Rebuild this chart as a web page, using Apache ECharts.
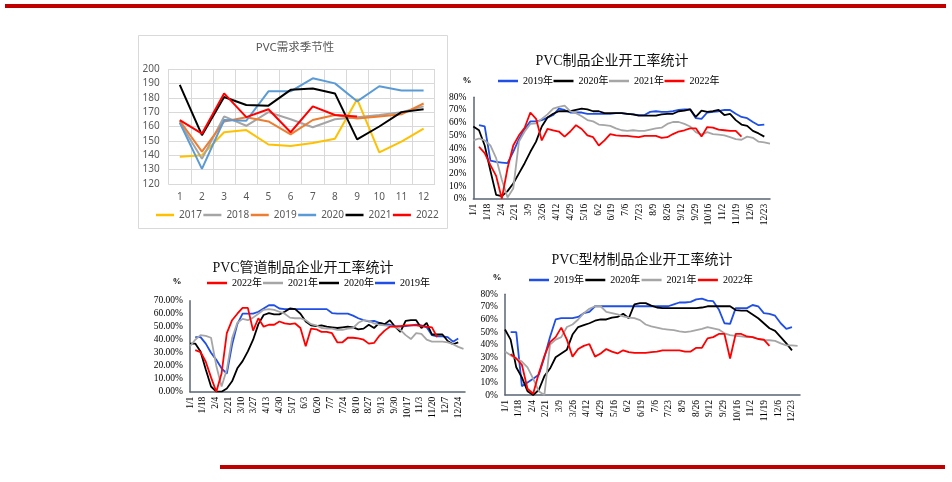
<!DOCTYPE html>
<html><head><meta charset="utf-8">
<script src="https://cdn.jsdelivr.net/npm/echarts@6/dist/echarts.min.js"></script>
<style>html,body{margin:0;padding:0;background:#fff}#c{width:952px;height:482px}</style>
</head><body><div id="c"></div>
<script>
// ---------- Panel 1: monthly seasonality ----------
const months = ['1','2','3','4','5','6','7','8','9','10','11','12'];
const s2017 = [139,140,156,157.5,147.5,146.5,148.5,151.5,179,142,149.5,158.5];
const s2018 = [163,137.5,167,160.5,170,165,159.5,165,166.5,168,170,174];
const s2019 = [164,142.5,163.5,166.5,163.5,154.5,164.5,168,165.5,167,168.5,176];
const s2020 = [162.5,130.5,164.5,164,184.5,184.5,193.5,190,177.5,188,185,185];
const s2021 = [189,154,180.5,175,174.5,185.5,186.5,183,151,160,170,172];
const s2022 = [164.5,155,183,166.5,172,156,174,168,167,null,null,null];

// ---------- Weekly tick labels (every 17 days) ----------
const labels2 = ['1/1','1/18','2/4','2/21','3/9','3/26','4/12','4/29','5/16','6/2','6/19','7/6','7/23','8/9','8/26','9/12','9/29','10/16','11/2','11/19','12/6','12/23'];
const labels3 = ['1/1','1/18','2/4','2/21','3/10','3/27','4/13','4/30','5/17','6/3','6/20','7/7','7/24','8/10','8/27','9/13','9/30','10/17','11/3','11/20','12/7','12/24'];
const labels4 = ['1/1','1/18','2/4','2/21','3/9','3/26','4/12','4/29','5/16','6/2','6/19','7/6','7/23','8/9','8/26','9/12','9/29','10/16','11/2','11/19','12/6','12/23'];

// ---------- Panel 2: PVC制品 weekly (week 0..52) ----------
const p2_2019 = [null,58,57,30,29,28.5,28,37,47,55,61,61,62,64,66,71,70,68,68,68,67,67,67,67,67,67.5,67.5,67,66.5,66,66,68.5,69,68.5,68.5,69,70,70.5,70.5,63.5,63,68,68.5,69,70,70,67,64.5,63.5,60.5,58,58.5,null];
const p2_2020 = [57,54,42,22,3,2,6,12,20,28,37,45,57,64,67,69,69,69,70,71,70.5,69,69,67.5,67.5,67.5,67.5,67,66.5,65.5,65.5,65.5,65.5,66.5,67,67,69,69.5,70.5,64.5,69.5,68.5,69,70,66,67,62,58.5,57.5,53.5,51.5,49,null];
const p2_2021 = [46,47.5,46,42,32,15,1,8,45,53,59,59.5,63,66.5,71,72.5,73.5,69,67.5,65,62,61,58.5,58,57.5,55.5,54,53.5,54,53.5,53.5,54.5,55.5,56,59,60.5,60.5,59,57,52.5,50.5,52.5,51,50.5,50,48.5,47,46.5,49,48,45,44.5,43.5];
const p2_2022 = [null,41,36,26.5,18,0,24,42,50,56,68,63,46,55,54,53,49,53,58,55,50,48.5,42,46,51,50,49.5,49.5,49,48.5,49.5,49.5,49.5,48,48.5,51,53,54,55.5,55.5,49,56.5,56,54.5,54,53.5,53.5,49,null,null,null,null,null];

// ---------- Panel 3: PVC管道制品 weekly ----------
const p3_2022 = [null,32,30.5,23,11,0,14,45,55,60,64.5,64.5,47,56.5,50,51.5,51.5,54,52.5,52,52.5,49,35,48.5,48,46,46,45,38,38,41.5,41.5,41,40,37,37.5,43,47,50,50,50.5,51,51,51,50.5,50,49.5,42,null,null,null,null,null];
const p3_2021 = [35,40,43.5,43,41.5,20,4,17,41,53,56,55,57,60,63,63.5,63,61.5,60,57,56.5,56.5,55,52,51,49,48.5,48.5,47.5,47.5,48.5,49,53,55,54.5,52.5,51.5,51,50.5,50,47.5,43.5,40.5,45,44.5,40,38.5,38.5,38.5,38,36.5,34.5,33];
const p3_2020 = [37,37,31,17,4,0,0,2.5,8,18,23.5,31,40,52,59,60.5,59.5,59.5,61.5,64,63.5,60,54,51,50.5,51,50,49.5,49,49.5,50,49.5,48,48.5,51.5,49,53,52,55,50,46,54.5,55,55,49,53,44,44,44,39,36.5,38,null];
const p3_2019 = [null,42,42,37,30,24.5,18,14,36,52,60,60,60,61.5,64,66.5,66.5,64,63.5,63.5,63.5,63.5,63.5,63.5,63.5,63.5,63.5,60.5,60,60,60,58.5,56.5,55,54,54.5,53,52,51.5,50.5,50,50.5,51,51.5,51,49.5,43.5,42.5,42.5,42,38.5,41,null];

// ---------- Panel 4: PVC型材制品 weekly ----------
const p4_2019 = [null,50,50,7,10,13,16,30,46,60,61,61,61,62,65,66,70.5,70.5,70.5,70.5,70.5,70.5,70.5,70.5,70.5,70.5,70.5,70.5,70.5,70.5,72,73.5,73.5,74,76,76.5,75,74.5,68,57,56.5,69,69,69,71.5,70.5,65,64.5,63,57,52.5,54,null];
const p4_2020 = [52,44,22,14,3,0,4,15,21,30,33,36,48,54,55.5,57,59,60,60,61.5,62,64.5,61,72,73,73,71,69.5,69,69,69,69,69,69,69,69.5,70.5,70.5,70.5,70.5,70.5,67.5,67,67,64,61,57,53,51,46,41,35.5,null];
const p4_2021 = [34.5,31.5,29,26.5,22,13,3,0,40,44,46,54,56,60,65,68.5,70.5,70.5,66,65,64,62.5,61.5,61,59.5,56,54.5,53.5,52.5,52,51.5,50.5,50,50.5,51.5,52.5,54,53,52,49,47.5,47,46.5,46,46,44.5,43.5,43.5,43,41,39.5,39.5,39];
const p4_2022 = [null,32.5,29,24,5,1,17,31,42,46,53.5,44,30.5,36.5,39,40.5,30.5,33,36.5,34.5,33,35.5,34,33.5,33.5,33.5,34,34.5,35.5,35.5,35.5,35.5,34.5,34.5,37.5,37.5,45,46,48.5,48.5,29,48.5,48.5,46.5,46,44.5,44,39,null,null,null,null,null];

const C_BLUE = '#1f4fe6', C_BLACK = '#000000', C_GRAY = '#a6a6a6', C_RED = '#ff0000';
const SERIF = "'Liberation Serif','Noto Sans CJK SC',serif";
const SANS = "'Noto Sans','Noto Sans CJK SC',sans-serif";

function weekly(arr){ return arr.map((v,i)=> v==null ? null : [i*7, v]).filter(p=>p); }
function dayFmt(labels){ return v => (v % 17 === 0 && labels[v/17]) ? labels[v/17] : ''; }

const chart = echarts.init(document.getElementById('c'), null, {renderer:'canvas'});

function wx(idx, labels, max){
  return {gridIndex: idx, type:'value', min:0, max:max, interval:17,
    axisLine:{show:true, lineStyle:{color:'#5a6474', width:1.5}},
    axisTick:{show:false}, splitLine:{show:false},
    axisLabel:{rotate:90, fontSize:9.5, color:'#000', fontFamily:SERIF, margin:5,
      showMaxLabel:false, formatter: dayFmt(labels)}};
}
function wy(idx, max, fmt){
  return {gridIndex: idx, type:'value', min:0, max:max, interval:10,
    axisLine:{show:true, lineStyle:{color:'#5a6474', width:1.5}},
    axisTick:{show:false}, splitLine:{show:false},
    axisLabel:{fontSize:9.5, color:'#000', fontFamily:SERIF, margin:7, formatter: fmt}};
}
function ls(name, data, color, xi, width){
  return {type:'line', name:name, xAxisIndex:xi, yAxisIndex:xi, data:data, symbol:'none',
    lineStyle:{color:color, width:width||1.8}, itemStyle:{color:color}, animation:false};
}
function lg(left, top, names, tw, gap, font, color){
  return {left:left, top:top, padding:0, itemWidth:20, itemHeight:2.5, itemGap:gap, icon:'rect',
    data:names, selectedMode:false,
    textStyle:{fontSize:10, color:color||'#000', fontFamily:font||SERIF, width:tw}};
}

const option = {
  animation:false,
  backgroundColor:'#fff',
  grid:[
    {left:168.7, top:69, width:266, height:115},
    {left:473.3, top:97.3, width:296.7, height:101.4},
    {left:190, top:300.7, width:275, height:91},
    {left:505, top:294.3, width:295, height:100.7}
  ],
  xAxis:[
    {gridIndex:0, type:'category', data:months, boundaryGap:true,
      axisLine:{lineStyle:{color:'#d9d9d9'}}, axisTick:{show:false},
      splitLine:{show:true, lineStyle:{color:'#d9d9d9'}},
      axisLabel:{fontSize:10, color:'#595959', fontFamily:SANS, margin:8}},
    wx(1, labels2, 364),
    wx(2, labels3, 366),
    wx(3, labels4, 367)
  ],
  yAxis:[
    {gridIndex:0, type:'value', min:120, max:200, interval:10,
      axisLine:{show:false}, axisTick:{show:false},
      splitLine:{lineStyle:{color:'#d9d9d9'}},
      axisLabel:{fontSize:10, color:'#595959', fontFamily:SANS, margin:9}},
    wy(1, 80, v => v + '%'),
    wy(2, 70, v => v.toFixed(2) + '%'),
    wy(3, 80, v => v + '%')
  ],
  legend:[
    {left:156, top:210, padding:0, itemWidth:18, itemHeight:2.5, itemGap:1.5, icon:'rect',
      data:['2017','2018','2019','2020','2021','2022'], selectedMode:false,
      textStyle:{fontSize:10, color:'#595959', fontFamily:SANS}},
    lg(498, 76, ['2019年','2020年','2021年','2022年'], 42, 0.5),
    lg(207, 278, ['2022年','2021年','2020年','2019年'], 35, 1),
    lg(529, 275, ['2019年','2020年','2021年','2022年'], 40, 1.3)
  ],
  series:[
    ls('2017', s2017, '#ffc000', 0, 2),
    ls('2018', s2018, '#a5a5a5', 0, 2),
    ls('2019', s2019, '#ed7d31', 0, 2),
    ls('2020', s2020, '#5b9bd5', 0, 2),
    ls('2021', s2021, '#000000', 0, 2),
    ls('2022', s2022, '#ff0000', 0, 2),

    ls('2019年', weekly(p2_2019), C_BLUE, 1),
    ls('2020年', weekly(p2_2020), C_BLACK, 1),
    ls('2021年', weekly(p2_2021), C_GRAY, 1),
    ls('2022年', weekly(p2_2022), C_RED, 1),

    ls('2019年', weekly(p3_2019), C_BLUE, 2),
    ls('2020年', weekly(p3_2020), C_BLACK, 2),
    ls('2021年', weekly(p3_2021), C_GRAY, 2),
    ls('2022年', weekly(p3_2022), C_RED, 2),

    ls('2019年', weekly(p4_2019), C_BLUE, 3),
    ls('2020年', weekly(p4_2020), C_BLACK, 3),
    ls('2021年', weekly(p4_2021), C_GRAY, 3),
    ls('2022年', weekly(p4_2022), C_RED, 3)
  ],
  graphic:[
    {type:'rect', shape:{x:5, y:4, width:941, height:4}, style:{fill:'#c00000'}, silent:true},
    {type:'rect', shape:{x:220, y:465, width:725, height:4}, style:{fill:'#c00000'}, silent:true},
    {type:'rect', shape:{x:138.5, y:35.5, width:309, height:193}, style:{fill:'none', stroke:'#d9d9d9', lineWidth:1}, silent:true},
    {type:'text', x:295, y:48, style:{text:'PVC需求季节性', font:"11.5px 'Noto Sans','Noto Sans CJK SC',sans-serif", fill:'#595959', textAlign:'center', textVerticalAlign:'middle'}},
    {type:'text', x:612, y:61, style:{text:'PVC制品企业开工率统计', font:"14px 'Liberation Serif','Noto Sans CJK SC',serif", fill:'#111', textAlign:'center', textVerticalAlign:'middle'}},
    {type:'text', x:303, y:268, style:{text:'PVC管道制品企业开工率统计', font:"14px 'Liberation Serif','Noto Sans CJK SC',serif", fill:'#111', textAlign:'center', textVerticalAlign:'middle'}},
    {type:'text', x:642, y:260, style:{text:'PVC型材制品企业开工率统计', font:"14px 'Liberation Serif','Noto Sans CJK SC',serif", fill:'#111', textAlign:'center', textVerticalAlign:'middle'}},
    {type:'text', x:467, y:81, style:{text:'%', font:"bold 9px 'Liberation Serif',serif", fill:'#000', textAlign:'center', textVerticalAlign:'middle'}},
    {type:'text', x:177, y:282, style:{text:'%', font:"bold 9px 'Liberation Serif',serif", fill:'#000', textAlign:'center', textVerticalAlign:'middle'}},
    {type:'text', x:497, y:278, style:{text:'%', font:"bold 9px 'Liberation Serif',serif", fill:'#000', textAlign:'center', textVerticalAlign:'middle'}}
  ]
};
chart.setOption(option);
</script>
</body></html>
